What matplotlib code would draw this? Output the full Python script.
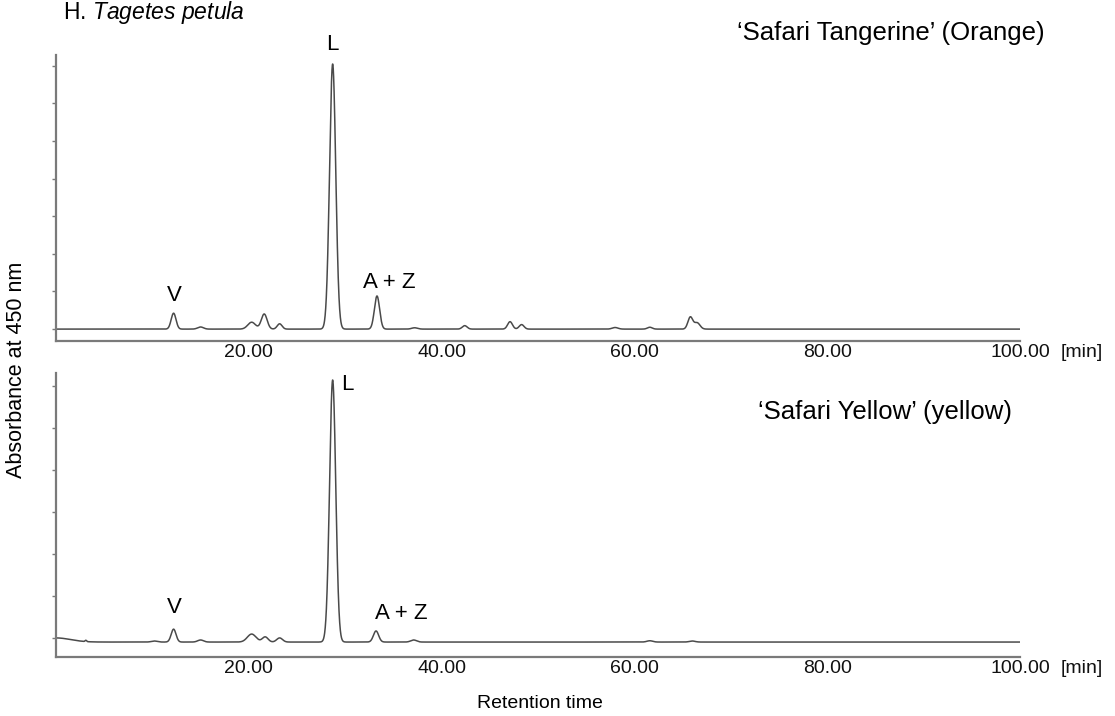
import numpy as np
import matplotlib
matplotlib.use("Agg")
import matplotlib.pyplot as plt

plt.rcParams['font.family'] = ['Liberation Sans', 'DejaVu Sans']
plt.rcParams['mathtext.fontset'] = 'custom'
plt.rcParams['mathtext.rm'] = 'Liberation Sans'
plt.rcParams['mathtext.it'] = 'Liberation Sans:italic'

# peak table, 'Safari Tangerine' (orange) - retention time [min], height (L = 100), sigma [min]
orange_rt = [12.2, 15.0, 20.3, 21.6, 23.2, 28.7, 33.3, 37.2, 42.4, 47.1, 48.3, 58.0, 61.6, 65.8, 66.5]
orange_h = [6.0, 0.8, 2.6, 5.7, 2.0, 100.0, 12.5, 0.5, 1.3, 2.8, 1.7, 0.6, 0.7, 4.5, 2.4]
orange_w = [0.25, 0.3, 0.4, 0.3, 0.25, 0.32, 0.27, 0.3, 0.25, 0.25, 0.25, 0.3, 0.25, 0.25, 0.3]

# peak table, 'Safari Yellow' (yellow)
yellow_rt = [0.0, 3.1, 10.2, 12.2, 15.0, 20.3, 21.7, 23.2, 28.7, 33.2, 37.1, 61.6, 66.0]
yellow_h = [1.6, 0.5, 0.4, 5.0, 0.8, 3.1, 2.0, 1.6, 101.6, 4.3, 0.8, 0.5, 0.4]
yellow_w = [1.5, 0.08, 0.3, 0.25, 0.3, 0.45, 0.3, 0.3, 0.32, 0.27, 0.3, 0.3, 0.3]
yellow_base = -1.6

ticks_x = [20, 40, 60, 80, 100]


def trace(t, rt, h, w, base=0.0):
    y = np.full_like(t, base)
    for r, a, s in zip(rt, h, w):
        y += a * np.exp(-0.5 * ((t - r) / s) ** 2)
    return y


t = np.arange(0, 100.001, 0.01)
line_col = '#4a4a4a'
spine_col = '#7a7a7a'

fig = plt.figure(figsize=(11.15, 7.16), dpi=100)
ax1 = fig.add_axes([0.0502, 0.5237, 0.8646, 0.3995])
ax2 = fig.add_axes([0.0502, 0.0824, 0.8646, 0.3966])

ax1.plot(t, trace(t, orange_rt, orange_h, orange_w), color=line_col, lw=1.1)
ax2.plot(t, trace(t, yellow_rt, yellow_h, yellow_w, yellow_base), color=line_col, lw=1.1)

ax1.set_ylim(-4.5, 103.4)
ax2.set_ylim(-7.4, 102.7)
ax1.set_yticks(np.arange(8) * 14.2)
ax2.set_yticks(np.arange(7) * 16.3)

for ax in (ax1, ax2):
    ax.set_xlim(0, 100)
    ax.set_xticks(ticks_x)
    ax.set_xticklabels(['%.2f' % v for v in ticks_x])
    for s in ('top', 'right'):
        ax.spines[s].set_visible(False)
    for s in ('left', 'bottom'):
        ax.spines[s].set_color(spine_col)
        ax.spines[s].set_linewidth(1.6)
    ax.tick_params(axis='x', length=0, pad=2, labelsize=14, colors='#111111')
    ax.tick_params(axis='y', direction='out', length=3, width=1,
                   color=spine_col, labelleft=False)
    ax.annotate('[min]', xy=(1.0, 0.0), xycoords='axes fraction',
                xytext=(29, -2), textcoords='offset points',
                ha='left', va='top', fontsize=14, color='#111111')

# peak labels
ax1.text(12.3, 12.5, 'V', ha='center', va='center', fontsize=16)
ax1.text(34.6, 17.4, 'A + Z', ha='center', va='center', fontsize=16)
ax1.text(28.7, 107.5, 'L', ha='center', va='center', fontsize=16, clip_on=False)
ax2.text(12.3, 11.6, 'V', ha='center', va='center', fontsize=16)
ax2.text(35.8, 9.3, 'A + Z', ha='center', va='center', fontsize=16)
ax2.text(30.2, 98.4, 'L', ha='center', va='center', fontsize=16)

fig.text(63 / 1115, 1 - 12 / 716, r'H. $\mathit{Tagetes\ petula}$',
         ha='left', va='center', fontsize=16.5)
fig.text(891 / 1115, 1 - 33 / 716, '\u2018Safari Tangerine\u2019 (Orange)',
         ha='center', va='center', fontsize=18.5)
fig.text(885 / 1115, 1 - 412 / 716, '\u2018Safari Yellow\u2019 (yellow)',
         ha='center', va='center', fontsize=18.5)
fig.text(17 / 1115, 1 - 370 / 716, 'Absorbance at 450 nm', rotation=90,
         ha='center', va='center', fontsize=15.5)
fig.text(540 / 1115, 1 - 703 / 716, 'Retention time',
         ha='center', va='center', fontsize=14)

fig.savefig('out.png', dpi=100)
